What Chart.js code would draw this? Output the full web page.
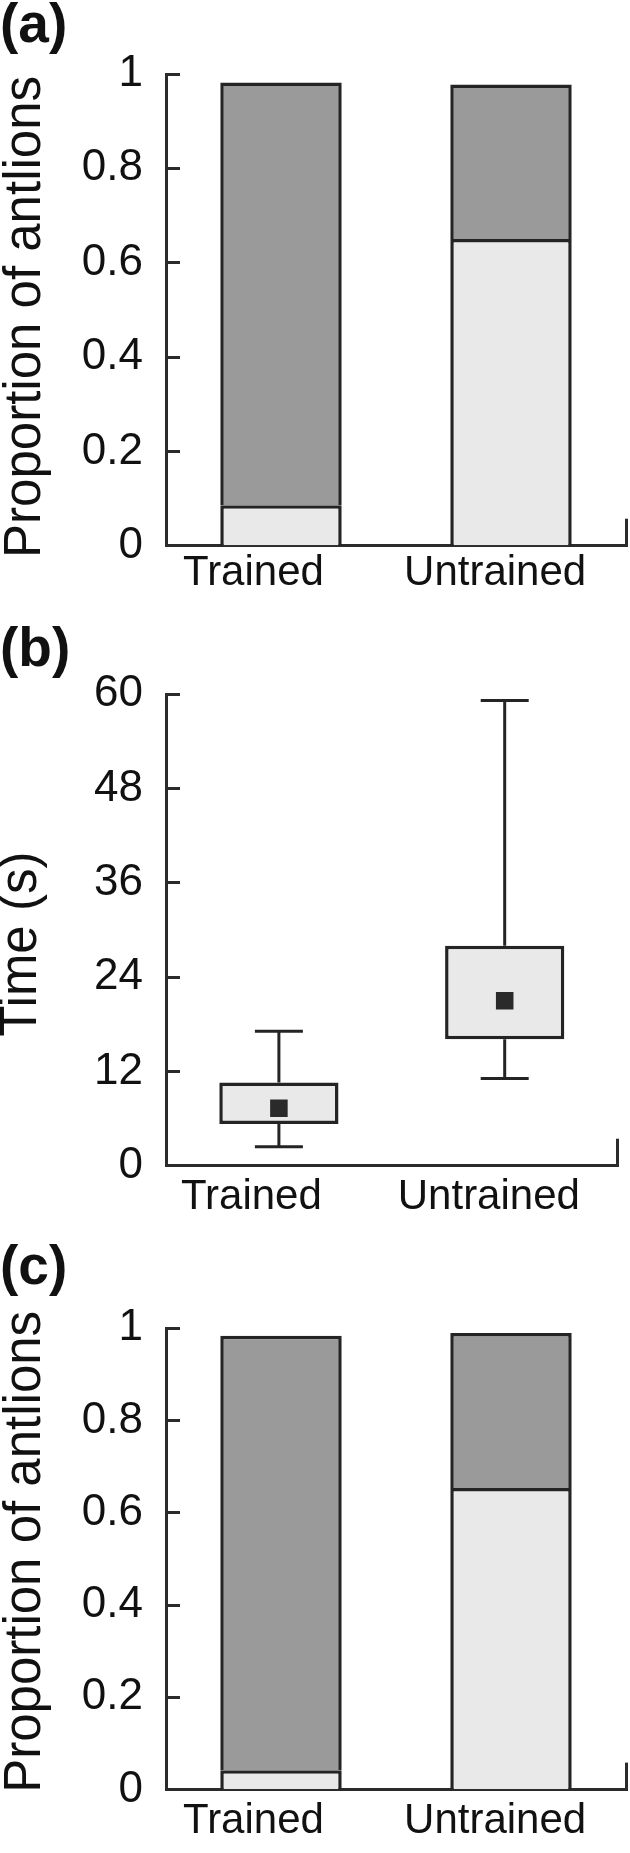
<!DOCTYPE html>
<html>
<head>
<meta charset="utf-8">
<script src="https://cdn.jsdelivr.net/npm/chart.js@4.4.1/dist/chart.umd.min.js"></script>
<style>
  html, body { margin: 0; padding: 0; background: #fff; }
  body { width: 630px; height: 1853px; position: relative; overflow: hidden; }
  canvas { position: absolute; left: 0; }
  .tag { position: absolute; left: 0px; font-family: "Liberation Sans", Arial, sans-serif; font-weight: bold; font-size: 55px; line-height: 55px; color: #111; }
</style>
</head>
<body>
<div class="tag" style="top:-4px">(a)</div>
<div class="tag" style="top:620px">(b)</div>
<div class="tag" style="top:1238px">(c)</div>
<canvas id="chartA" width="630" height="610" style="top:0px"></canvas>
<canvas id="chartB" width="630" height="620" style="top:615px"></canvas>
<canvas id="chartC" width="630" height="618" style="top:1235px"></canvas>
<script>
const categories = ["Trained", "Untrained"];

// (a) proportion of antlions
const propA_low = [0.086, 0.65];
const propA_high = [0.896, 0.328];

// (b) time (s): whiskers, box and median
const timeMin = [2.4, 11.1];
const timeQ1 = [5.3, 16.1];
const timeMedian = [7.3, 21.0];
const timeQ3 = [10.6, 28.0];
const timeMax = [17.1, 59.2];

// (c) proportion of antlions
const propC_low = [0.042, 0.654];
const propC_high = [0.942, 0.336];

const propTicks = [0, 0.2, 0.4, 0.6, 0.8, 1];
const timeTicks = [0, 12, 24, 36, 48, 60];

const FONT = '"Liberation Sans", Arial, sans-serif';
const AXIS = "#2b2b2b";
const EDGE = "#242424";
const LIGHT = "#e9e9e9";
const DARK = "#9a9a9a";
const NB = "\u00a0", THIN = "\u2009";

// labels sit a little left of the bar centres in the original
function catLabel(v, i) {
  return categories[i] + (i === 0 ? NB + NB + NB + NB + THIN : NB + NB + THIN);
}

function yAxis(max, ticks, title, titlePad) {
  return {
    min: 0,
    max: max,
    stacked: true,
    afterBuildTicks: (s) => { s.ticks = ticks.map((v) => ({ value: v })); },
    afterFit: (s) => { s.width = 166; },
    border: { display: true, color: AXIS, width: 3 },
    grid: { drawOnChartArea: false, tickLength: -14, tickWidth: 3, tickColor: AXIS, color: AXIS },
    ticks: { color: "#111", font: { family: FONT, size: 44 }, padding: 37, callback: (v) => String(v) },
    title: {
      display: true, text: title, color: "#111",
      font: { family: FONT, size: 51, lineHeight: 1 },
      padding: { top: titlePad, bottom: 0 },
    },
  };
}

function xAxis(h, pad) {
  return {
    stacked: true,
    z: 1,
    afterFit: (s) => {
      s.height = h;
      s.paddingLeft = 0;
      s.paddingRight = 0;
    },
    border: { display: true, color: AXIS, width: 3 },
    grid: {
      offset: true, drawOnChartArea: false, tickLength: -27, tickWidth: 3,
      // only the closing mark at the right end
      tickColor: (ctx) => (ctx.tick ? "rgba(0,0,0,0)" : AXIS),
    },
    ticks: { color: "#111", font: { family: FONT, size: 42 }, padding: pad, callback: catLabel },
  };
}

function stackConfig(low, high, top, xh, xpad, title) {
  return {
    type: "bar",
    data: {
      labels: categories,
      datasets: [
        { data: low, backgroundColor: LIGHT, borderColor: EDGE, borderWidth: 3.5, borderSkipped: "start" },
        { data: high, backgroundColor: DARK, borderColor: EDGE, borderWidth: 3.5, borderSkipped: "start" },
      ],
    },
    options: {
      responsive: false,
      animation: false,
      layout: { padding: { top: top, right: 4, bottom: 0, left: 0 } },
      datasets: { bar: { categoryPercentage: 1, barPercentage: 0.528 } },
      plugins: { legend: { display: false }, tooltip: { enabled: false } },
      scales: { x: xAxis(xh, xpad), y: yAxis(1, propTicks, title, 0) },
    },
  };
}

const whiskers = {
  id: "whiskers",
  beforeDatasetsDraw(chart) {
    const { ctx } = chart;
    const x = chart.scales.x, y = chart.scales.y;
    ctx.save();
    ctx.strokeStyle = EDGE;
    ctx.lineWidth = 3;
    categories.forEach((c, i) => {
      const px = x.getPixelForValue(i);
      const cap = 24;
      ctx.beginPath();
      ctx.moveTo(px, y.getPixelForValue(timeMin[i]));
      ctx.lineTo(px, y.getPixelForValue(timeQ1[i]));
      ctx.moveTo(px, y.getPixelForValue(timeQ3[i]));
      ctx.lineTo(px, y.getPixelForValue(timeMax[i]));
      [timeMin[i], timeMax[i]].forEach((v) => {
        const py = y.getPixelForValue(v);
        ctx.moveTo(px - cap, py);
        ctx.lineTo(px + cap, py);
      });
      ctx.stroke();
    });
    ctx.restore();
  },
};

const chartA = new Chart(document.getElementById("chartA"),
  stackConfig(propA_low, propA_high, 74, 64.3, 30, "Proportion of antlions" + NB));

const yB = yAxis(60, timeTicks, "Time (s)" + NB + NB, -4);
yB.stacked = false;
const xB = xAxis(69.3, 34);
xB.stacked = false;

const chartB = new Chart(document.getElementById("chartB"), {
  type: "bar",
  data: {
    labels: categories,
    datasets: [
      {
        type: "line",
        data: timeMedian,
        showLine: false,
        pointStyle: "rect",
        pointRadius: 12.4,
        pointBackgroundColor: "#2a2a2a",
        pointBorderWidth: 0,
      },
      {
        data: categories.map((c, i) => [timeQ1[i], timeQ3[i]]),
        backgroundColor: LIGHT,
        borderColor: EDGE,
        borderWidth: 3.5,
        borderSkipped: false,
        order: 1,
      },
    ],
  },
  options: {
    responsive: false,
    animation: false,
    layout: { padding: { top: 79.3, right: 4, bottom: 0, left: 0 } },
    datasets: { bar: { categoryPercentage: 1, barPercentage: 0.528 } },
    plugins: { legend: { display: false }, tooltip: { enabled: false } },
    scales: { x: xB, y: yB },
  },
  plugins: [whiskers],
});

const chartC = new Chart(document.getElementById("chartC"),
  stackConfig(propC_low, propC_high, 93.3, 54, 34, NB + "Proportion of antlions"));
</script>
</body>
</html>
